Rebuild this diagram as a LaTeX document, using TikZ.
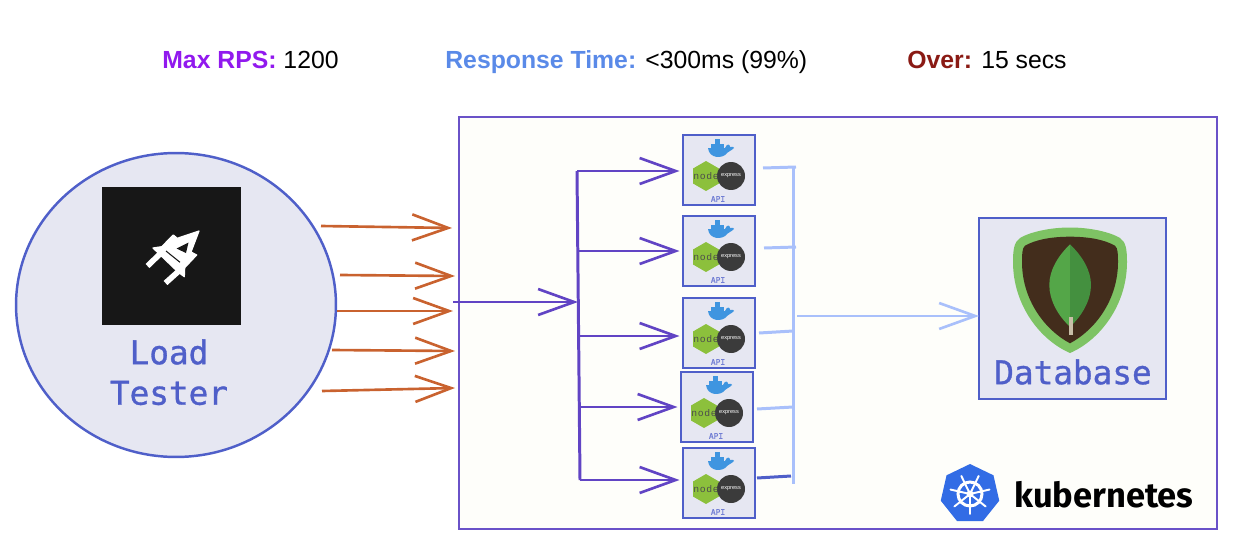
\documentclass[tikz,border=0pt]{standalone}
\usepackage{fontspec}
\setmainfont{Liberation Sans}
\newfontfamily\monofnt[UprightFeatures={FakeBold=1}]{DejaVu Sans Mono}
\newfontfamily\kubefnt{Fira Sans}
\usetikzlibrary{calc,arrows.meta,shapes.geometric}

\definecolor{boxfill}{HTML}{E6E7F2}
\definecolor{boxline}{HTML}{4F5FC9}
\definecolor{kubeline}{HTML}{6A52C8}
\definecolor{kubefill}{HTML}{FEFEFA}
\definecolor{busline}{HTML}{6144C4}
\definecolor{lightbus}{HTML}{A9C0FB}
\definecolor{loadline}{HTML}{C9622F}
\definecolor{dockblue}{HTML}{3F95E0}
\definecolor{nodegreen}{HTML}{8CC03C}

\tikzset{
  barb/.style={-{Straight Barb[length=.72cm,width=.52cm,line width=1.5pt]}},
  loadarrow/.style={barb,draw=loadline,line width=1.5pt},
  busarrow/.style={barb,draw=busline,line width=1.7pt},
  lightarrow/.style={barb,draw=lightbus,line width=1.7pt},
  apibox/.style={draw=boxline,fill=boxfill,line width=1.4pt,outer sep=0pt,inner sep=0pt,
    minimum width=1.44cm,minimum height=1.4cm},
  headlabel/.style={anchor=base west,inner sep=0pt,font=\fontsize{14.1}{16}\selectfont},
  monolabel/.style={inner sep=0pt,text=boxline,font=\monofnt\fontsize{18.6}{22}\selectfont},
  pics/apiicons/.style={code={
    \fill[dockblue] (-8,-26) rectangle (5,-22);
    \fill[dockblue] (-4,-31) rectangle (1,-25);
    \fill[dockblue] (-11,-22) -- (6,-22) .. controls (8,-27) and (11,-26) .. (11,-23) .. controls (13,-24) and (15,-23) .. (15,-22) .. controls (12,-19) and (10,-19) .. (8,-17) .. controls (4,-11) and (-10,-11) .. cycle;
    \node[regular polygon,regular polygon sides=6,shape border rotate=30,fill=nodegreen,
      minimum size=.6cm,inner sep=0pt] (-hex) at (-13,6) {};
    \node[circle,fill=black!77,minimum size=.56cm,inner sep=0pt] (-exp) at (12,6) {};
    \node[inner sep=0pt,text=black!70,font=\fontsize{5.5}{6}\selectfont\addfontfeatures{LetterSpace=12}] (-nodetxt) at (-13,6) {node};
    \node[inner sep=0pt,text=white,font=\fontsize{3.2}{4}\selectfont] (-exptxt) at (12,6) {express};
    \node[inner sep=0pt,text=boxline!80,font=\monofnt\fontsize{4.5}{5}\selectfont] (-apitxt) at (-1,29) {API};
  }},
}

\begin{document}
\begin{tikzpicture}[x=.02cm,y=-.02cm]
\useasboundingbox (0,0) rectangle (1250,544);

% top line
\node[headlabel] (rps) at (162,69) {\textcolor[HTML]{9119EE}{\textbf{Max RPS:}} 1200};
\node[headlabel] (resp) at (445,69) {\textcolor[HTML]{5A8AE8}{\textbf{Response Time:}} {<}300ms (99\%)};
\node[headlabel] (over) at (907,69) {\textcolor[HTML]{8A1A14}{\textbf{Over:}} 15 secs};

% load tester
\node[ellipse,draw=boxline,fill=boxfill,line width=1.4pt,minimum width=6.4cm,minimum height=6.08cm,inner sep=0pt] (tester) at (176,305) {};
\node[fill=black!91,minimum width=2.78cm,minimum height=2.76cm,inner sep=0pt,outer sep=0pt] (rocketbg) at (171.5,256) {};
\filldraw[white,line width=.7pt,line join=round] (153,248) -- (161.7,246.7) -- (173.3,235) -- (177.3,238.3) -- (199,231) -- (191,252) -- (196.7,255) -- (184.7,267.7) -- (184.3,276.7) -- (178,272) -- cycle;
\fill[black!91] (176.5,248.5) -- (188.5,242.5) -- (186,253) -- cycle;
\draw[white,line width=3.2pt] (147.5,266) -- (161.7,252.3);
\draw[white,line width=3.2pt] (165.5,283) -- (180,270);
\draw[black!91,line width=.6pt] (166,251) -- (180,262.3);
\node[monolabel] (loadtxt) at (169,352) {Load};
\node[monolabel] (testertxt) at (169,393) {Tester};

% kubernetes box
\node[draw=kubeline,fill=kubefill,line width=1.4pt,minimum width=15.16cm,minimum height=8.24cm,inner sep=0pt,outer sep=0pt] (kube) at (838,323) {};

% api boxes
\node[apibox] (api1) at (719,170) {};
\node[apibox] (api2) at (719,251) {};
\node[apibox] (api3) at (719,333) {};
\node[apibox] (api4) at (717,407) {};
\node[apibox] (api5) at (719,483) {};
\foreach \n in {1,...,5}
  \pic (icons\n) at (api\n) {apiicons};

% load arrows
\coordinate (load1a) at (321,226); \coordinate (load1b) at (452,228);
\coordinate (load2a) at (340,275); \coordinate (load2b) at (455,276);
\coordinate (load3a) at (337,311); \coordinate (load3b) at (453,311);
\coordinate (load4a) at (332,350); \coordinate (load4b) at (455,351);
\coordinate (load5a) at (322,391); \coordinate (load5b) at (455,388);
\foreach \n in {1,...,5}
  \draw[loadarrow] (load\n a) -- (load\n b);

% purple bus
\coordinate (busin) at (453,302);
\coordinate (busmid) at (578,302);
\coordinate (bus1) at (577,171);
\coordinate (bus2) at (578,251);
\coordinate (bus3) at (578,336);
\coordinate (bus4) at (579,407);
\coordinate (bus5) at (580,480);
\draw[busarrow] (busin) -- (busmid);
\draw[busline,line width=1.7pt] (bus1) -- (bus5);
\foreach \n in {1,...,5}
  \draw[busarrow,shorten >=2pt] (bus\n) -- (bus\n -| api\n.west);

% light bus
\coordinate (lighttop) at (793,167);
\coordinate (lightbot) at (793,484);
\coordinate (out1a) at (763,168); \coordinate (out1b) at (796,167);
\coordinate (out2a) at (764,248); \coordinate (out2b) at (796,247);
\coordinate (out3a) at (759,333); \coordinate (out3b) at (793,331);
\coordinate (out4a) at (757,409); \coordinate (out4b) at (793,407);
\coordinate (out5a) at (757,478); \coordinate (out5b) at (791,476);
\coordinate (dbin) at (797,316);
\draw[lightbus,line width=1.7pt] (lighttop) -- (lightbot);
\foreach \n in {1,...,4}
  \draw[lightbus,line width=1.7pt] (out\n a) -- (out\n b);
\draw[boxline,line width=1.7pt] (out5a) -- (out5b);

% database
\node[draw=boxline,fill=boxfill,line width=1.5pt,minimum width=3.74cm,minimum height=3.62cm,inner sep=0pt,outer sep=0pt] (db) at (1072.5,308.5) {};
\draw[lightarrow] (dbin) -- (dbin -| db.west);
\fill[color={rgb,255:red,126;green,195;blue,100}] (1070,227.5) .. controls (1090,227.5) and (1110,232) .. (1120,238) .. controls (1126,242) and (1127,250) .. (1127,262) .. controls (1127,305) and (1100,340) .. (1070,353) .. controls (1040,340) and (1013,305) .. (1013,262) .. controls (1013,250) and (1014,242) .. (1020,238) .. controls (1030,232) and (1050,227.5) .. cycle;
\fill[color={rgb,255:red,67;green,45;blue,28}] (1070,236.7) .. controls (1090,236.7) and (1105,240) .. (1115,245.7) .. controls (1118,248) and (1118,255) .. (1118,262) .. controls (1118,300) and (1095,330) .. (1070,343.3) .. controls (1045,330) and (1022,300) .. (1022,262) .. controls (1022,255) and (1022,248) .. (1025,245.7) .. controls (1035,240) and (1050,236.7) .. cycle;
\fill[color={rgb,255:red,84;green,166;blue,72}] (1070,244.3) .. controls (1058,256) and (1049.3,270) .. (1049.3,285) .. controls (1049.3,300) and (1058,316) .. (1070,326.7) -- cycle;
\fill[color={rgb,255:red,68;green,144;blue,63}] (1070,244.3) .. controls (1082,256) and (1091,270) .. (1091,285) .. controls (1091,300) and (1082,316) .. (1070,326.7) -- cycle;
\draw[color={rgb,255:red,200;green,191;blue,168},line width=1.8pt] (1071,317) -- (1071,335);
\node[monolabel] (dbtxt) at (1073,372) {Database};

% kubernetes logo
\node[regular polygon,regular polygon sides=7,fill={rgb,255:red,50;green,108;blue,229},minimum size=1.2cm,inner sep=0pt] (kubelogo) at (970,494) {};
\draw[white,line width=1.7pt] (kubelogo.center) circle (12);
\fill[white] (kubelogo.center) circle (3.5);
\foreach \a in {90,141.4,192.9,244.3,295.7,347.1,398.6}
  \draw[white,line width=1.1pt,line cap=round] ($(kubelogo.center)+(\a:3)$) -- ($(kubelogo.center)+(\a:20)$);
\node[anchor=west,inner sep=0pt,font=\kubefnt\bfseries\fontsize{19.6}{22}\selectfont] (kubetxt) at (1014,495) {kubernetes};
\end{tikzpicture}
\end{document}
